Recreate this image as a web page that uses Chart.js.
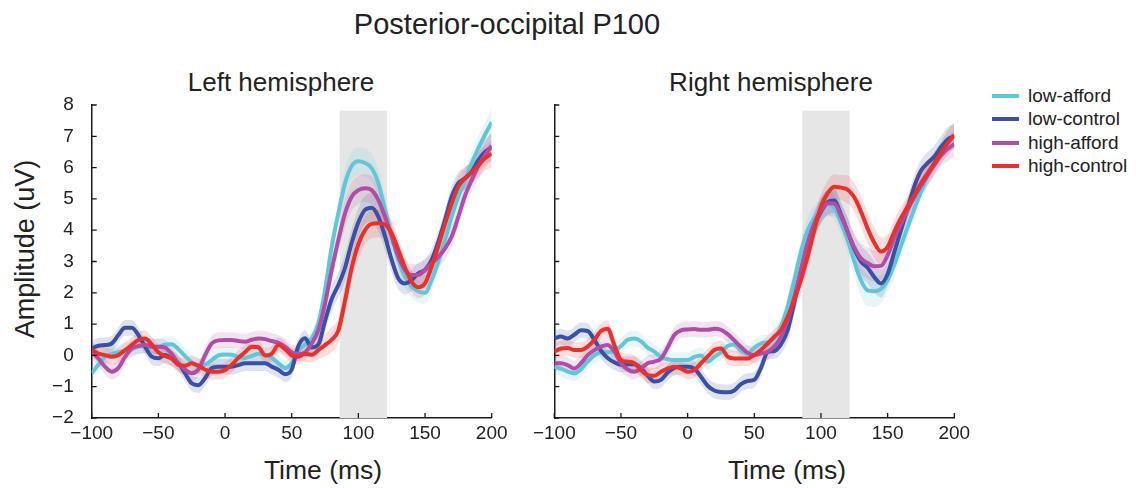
<!DOCTYPE html>
<html>
<head>
<meta charset="utf-8">
<script src="https://cdn.jsdelivr.net/npm/chart.js@4.4.1/dist/chart.umd.min.js"></script>
<style>
  body { margin: 0; width: 1136px; height: 488px; position: relative; overflow: hidden; background: #fff;
         font-family: "Liberation Sans", Arial, sans-serif; color: #222; }
  canvas { position: absolute; }
  .txt { position: absolute; white-space: nowrap; transform: translate(-50%, -50%); }
  #legend { position: absolute; left: 992px; top: 84px; font-size: 19px; }
  #legend div { height: 23.3px; line-height: 23.3px; position: relative; padding-left: 36px; }
  #legend span { position: absolute; left: 0; top: 10px; width: 27px; height: 4px; }
</style>
</head>
<body>
<div class="txt" style="left:507px;top:24px;font-size:29px">Posterior-occipital P100</div>
<div class="txt" style="left:281px;top:82px;font-size:26px">Left hemisphere</div>
<div class="txt" style="left:771px;top:82px;font-size:26px">Right hemisphere</div>
<div class="txt" style="left:25px;top:249px;font-size:27px;transform:translate(-50%,-50%) rotate(-90deg)">Amplitude (uV)</div>
<div class="txt" style="left:323px;top:470px;font-size:26.5px">Time (ms)</div>
<div class="txt" style="left:787px;top:470px;font-size:26.5px">Time (ms)</div>
<div id="legend"></div>

<canvas id="left" width="510" height="364" style="left:0px;top:91px"></canvas>
<canvas id="right" width="452" height="364" style="left:520px;top:91px"></canvas>

<script>

	/* Data */
	var times = [-100, -95, -90, -85, -80, -75, -70, -65, -60, -55,
		-50, -45, -40, -35, -30, -25, -20, -15, -10, -5,
		0, 5, 10, 15, 20, 25, 30, 35, 40, 45,
		50, 55, 60, 65, 70, 75, 80, 85, 90, 95,
		100, 105, 110, 115, 120, 125, 130, 135, 140, 145,
		150, 155, 160, 165, 170, 175, 180, 185, 190, 195,
		200];

	var conditions = ['low-afford', 'low-control', 'high-afford', 'high-control'];
	var colors = ['#62c6d9', '#3b4fa3', '#b04ea6', '#e8302d'];

	var xTicks = [-100, -50, 0, 50, 100, 150, 200];
	var yTicks = [-2, -1, 0, 1, 2, 3, 4, 5, 6, 7, 8];

	// P100 window (ms) and the top of the grey box (uV)
	var shadeStart = 86;
	var shadeEnd = 121.5;
	var shadeTop = 7.82;

	// left hemisphere means (uV)
	var lowAffordLeft = [-0.57, -0.3, -0.05, 0.05, 0.1, 0.15, 0.2, 0.28, 0.3, 0.28,
		0.28, 0.35, 0.36, 0.2, -0.02, -0.22, -0.35, -0.3, -0.15, 0.0,
		0.03, 0.02, -0.05, -0.08, -0.02, 0.05, 0.02, -0.08, -0.25, -0.4,
		-0.25, 0.15, 0.35, 0.55, 1.03, 2.09, 3.47, 4.54, 5.5, 6.05,
		6.2, 6.15, 5.98, 5.5, 4.65, 3.8, 3.05, 2.52, 2.2, 2.04,
		2.0, 2.41, 3.0, 3.69, 4.43, 5.07, 5.6, 6.14, 6.62, 7.05,
		7.45];
	var lowControlLeft = [0.22, 0.31, 0.33, 0.38, 0.65, 0.88, 0.88, 0.65, 0.28, -0.04,
		-0.09, 0.01, -0.09, -0.25, -0.57, -0.89, -0.95, -0.73, -0.41, -0.36,
		-0.36, -0.36, -0.31, -0.25, -0.25, -0.25, -0.25, -0.36, -0.46, -0.6,
		-0.45, 0.3, 0.55, 0.25, 0.35, 1.1, 1.8, 2.25, 2.8, 3.6,
		4.25, 4.65, 4.72, 4.43, 3.8, 3.05, 2.46, 2.3, 2.41, 2.62,
		2.73, 3.05, 3.63, 4.33, 5.07, 5.5, 5.66, 5.87, 6.24, 6.5,
		6.65];
	var highAffordLeft = [0.12, -0.1, -0.36, -0.52, -0.4, -0.05, 0.22, 0.3, 0.33, 0.28,
		0.28, 0.25, 0.05, -0.25, -0.45, -0.57, -0.45, 0.0, 0.38, 0.48,
		0.49, 0.49, 0.46, 0.44, 0.5, 0.54, 0.52, 0.46, 0.4, 0.28,
		0.1, 0.05, 0.1, 0.38, 0.81, 1.66, 2.73, 3.69, 4.54, 5.07,
		5.28, 5.34, 5.28, 4.96, 4.43, 3.8, 3.15, 2.73, 2.57, 2.57,
		2.73, 2.94, 3.15, 3.42, 3.8, 4.43, 5.1, 5.6, 6.05, 6.4,
		6.7];
	var highControlLeft = [0.17, 0.06, 0.01, -0.04, 0.01, 0.17, 0.33, 0.49, 0.54, 0.35,
		0.1, -0.02, -0.1, -0.3, -0.33, -0.25, -0.33, -0.45, -0.52, -0.52,
		-0.47, -0.3, -0.08, 0.1, 0.28, 0.26, 0.0, 0.05, 0.33, 0.2,
		0.0, -0.04, 0.05, 0.02, 0.17, 0.33, 0.5, 0.8, 1.75, 2.8,
		3.55, 4.0, 4.2, 4.22, 4.18, 3.9, 3.37, 2.8, 2.35, 2.18,
		2.3, 2.84, 3.5, 4.2, 4.85, 5.4, 5.66, 5.85, 6.08, 6.3,
		6.45];
	var semLeft = [0.25, 0.25, 0.25, 0.25, 0.25, 0.25, 0.25, 0.25, 0.25, 0.25,
		0.25, 0.25, 0.25, 0.25, 0.25, 0.25, 0.25, 0.25, 0.25, 0.25,
		0.25, 0.25, 0.25, 0.25, 0.25, 0.25, 0.25, 0.25, 0.25, 0.25,
		0.25, 0.25, 0.25, 0.25, 0.3, 0.35, 0.4, 0.4, 0.45, 0.45,
		0.45, 0.45, 0.45, 0.45, 0.45, 0.4, 0.35, 0.35, 0.35, 0.35,
		0.35, 0.35, 0.35, 0.35, 0.35, 0.35, 0.35, 0.35, 0.4, 0.4,
		0.45];

	// right hemisphere means (uV)
	var lowAffordRight = [-0.36, -0.42, -0.52, -0.57, -0.45, -0.2, 0.0, 0.1, 0.1, 0.15,
		0.3, 0.5, 0.54, 0.45, 0.25, 0.12, -0.05, -0.12, -0.15, -0.15,
		-0.15, -0.05, 0.0, -0.2, -0.05, 0.1, 0.3, 0.35, 0.15, 0.05,
		0.25, 0.38, 0.42, 0.54, 0.92, 1.55, 2.41, 3.31, 4.0, 4.38,
		4.64, 4.86, 4.72, 4.25, 3.7, 3.0, 2.4, 2.08, 2.05, 2.12,
		2.4, 2.9, 3.5, 4.1, 4.68, 5.22, 5.75, 6.15, 6.5, 6.8,
		7.04];
	var lowControlRight = [0.54, 0.6, 0.54, 0.66, 0.8, 0.78, 0.5, 0.15, -0.08, -0.22,
		-0.3, -0.28, -0.28, -0.4, -0.65, -0.83, -0.78, -0.55, -0.4, -0.36,
		-0.36, -0.42, -0.68, -0.97, -1.12, -1.17, -1.18, -1.12, -0.92, -0.82,
		-0.78, -0.4, 0.1, 0.14, 0.35, 0.8, 1.7, 2.7, 3.55, 4.15,
		4.6, 4.9, 4.95, 4.5, 3.95, 3.4, 3.0, 2.8, 2.5, 2.3,
		2.6, 3.3, 4.0, 4.7, 5.4, 5.9, 6.15, 6.35, 6.65, 6.9,
		7.0];
	var highAffordRight = [-0.25, -0.25, -0.31, -0.42, -0.25, 0.01, 0.17, 0.28, 0.33, 0.12,
		-0.25, -0.45, -0.52, -0.42, -0.25, -0.2, -0.1, 0.25, 0.65, 0.8,
		0.83, 0.84, 0.82, 0.82, 0.85, 0.82, 0.68, 0.48, 0.27, 0.08,
		0.01, 0.06, 0.12, 0.28, 0.6, 1.13, 1.87, 2.73, 3.58, 4.22,
		4.64, 4.86, 4.85, 4.45, 3.95, 3.45, 3.1, 2.95, 2.85, 2.86,
		3.2, 3.75, 4.2, 4.65, 5.05, 5.42, 5.75, 6.08, 6.38, 6.6,
		6.75];
	var highControlRight = [0.12, 0.22, 0.24, 0.17, 0.17, 0.28, 0.49, 0.78, 0.85, 0.33,
		-0.15, -0.2, -0.25, -0.47, -0.63, -0.65, -0.52, -0.42, -0.36, -0.42,
		-0.52, -0.47, -0.25, -0.04, 0.17, 0.22, -0.04, -0.1, -0.1, -0.1,
		0.01, 0.17, 0.38, 0.6, 0.81, 1.23, 1.77, 2.41, 3.15, 4.0,
		4.75, 5.18, 5.39, 5.36, 5.3, 5.05, 4.6, 4.05, 3.6, 3.32,
		3.47, 3.95, 4.38, 4.75, 5.12, 5.5, 5.82, 6.14, 6.46, 6.78,
		7.04];
	var semRight = [0.25, 0.25, 0.25, 0.25, 0.25, 0.25, 0.25, 0.25, 0.25, 0.25,
		0.25, 0.25, 0.25, 0.25, 0.25, 0.25, 0.25, 0.25, 0.25, 0.25,
		0.25, 0.25, 0.25, 0.25, 0.25, 0.25, 0.25, 0.25, 0.25, 0.25,
		0.25, 0.25, 0.25, 0.25, 0.3, 0.35, 0.4, 0.4, 0.4, 0.4,
		0.4, 0.4, 0.4, 0.4, 0.45, 0.45, 0.5, 0.5, 0.5, 0.45,
		0.4, 0.4, 0.35, 0.35, 0.35, 0.35, 0.35, 0.35, 0.35, 0.4,
		0.4];


	/* ********************************

	    Helpers

	******************************** */

	Chart.defaults.font.family = '"Liberation Sans", Arial, sans-serif';
	Chart.defaults.color = '#222';

	function minus(v) {
		return v < 0 ? '\u2212' + Math.abs(v) : String(v);
	}

	function hexAlpha(hex, a) {
		var n = parseInt(hex.slice(1), 16);
		return 'rgba(' + (n >> 16) + ',' + ((n >> 8) & 255) + ',' + (n & 255) + ',' + a + ')';
	}

	function points(values, sem, sign) {
		return times.map(function(t, i) {
			return { x: t, y: values[i] + sign * sem[i] };
		});
	}

	// grey window behind the curves and inward tick marks like the original
	var panelPlugin = {
		id: 'panel',
		beforeDatasetsDraw: function(chart) {
			var x = chart.scales.x, y = chart.scales.y, ctx = chart.ctx;
			var x0 = x.getPixelForValue(shadeStart), x1 = x.getPixelForValue(shadeEnd);
			var y0 = y.getPixelForValue(shadeTop), y1 = y.getPixelForValue(y.min);
			ctx.save();
			ctx.fillStyle = '#e6e6e6';
			ctx.fillRect(x0, y0, x1 - x0, y1 - y0);
			ctx.restore();
		},
		afterDraw: function(chart) {
			var x = chart.scales.x, y = chart.scales.y, ctx = chart.ctx;
			var area = chart.chartArea;
			ctx.save();
			ctx.strokeStyle = '#1a1a1a';
			ctx.lineWidth = 1.3;
			ctx.beginPath();
			xTicks.forEach(function(v) {
				var px = x.getPixelForValue(v);
				ctx.moveTo(px, area.bottom);
				ctx.lineTo(px, area.bottom - 5);
			});
			yTicks.forEach(function(v) {
				var py = y.getPixelForValue(v);
				ctx.moveTo(area.left, py);
				ctx.lineTo(area.left + 5, py);
			});
			ctx.stroke();
			ctx.restore();
		}
	};


	/* ********************************

	    Chart - one hemisphere

	******************************** */

	function buildPanel(canvasId, series, sem, yWidth, showYLabels, rightPad) {

		var datasets = [];
		// red drawn on top, then purple, blue, cyan
		var lineOrder = [3, 2, 1, 0];

		series.forEach(function(values, i) {
			datasets.push({
				data: points(values, sem, 1),
				borderWidth: 0,
				pointRadius: 0,
				backgroundColor: hexAlpha(colors[i], 0.16),
				fill: '+1',
				cubicInterpolationMode: 'monotone',
				order: 20 + lineOrder[i]
			});
			datasets.push({
				data: points(values, sem, -1),
				borderWidth: 0,
				pointRadius: 0,
				fill: false,
				cubicInterpolationMode: 'monotone',
				order: 20 + lineOrder[i]
			});
		});

		series.forEach(function(values, i) {
			datasets.push({
				label: conditions[i],
				data: points(values, sem, 0),
				borderColor: colors[i],
				borderWidth: 4,
				pointRadius: 0,
				fill: false,
				cubicInterpolationMode: 'monotone',
				order: lineOrder[i]
			});
		});

		return new Chart(document.getElementById(canvasId), {
			type: 'line',
			data: { datasets: datasets },
			plugins: [panelPlugin],
			options: {
				responsive: false,
				animation: false,
				events: [],
				layout: { padding: { top: 14, right: rightPad, left: 0, bottom: 0 } },
				plugins: {
					legend: { display: false },
					tooltip: { enabled: false }
				},
				scales: {
					x: {
						type: 'linear',
						min: -100,
						max: 200,
						afterBuildTicks: function(scale) {
							scale.ticks = xTicks.map(function(v) { return { value: v }; });
						},
						ticks: { font: { size: 19 }, padding: 4, maxRotation: 0, callback: minus },
						grid: { display: false, drawTicks: false },
						border: { display: true, color: '#1a1a1a', width: 1.5 },
						afterFit: function(scale) {
							scale.height = 37;
							scale.paddingLeft = 0;
							scale.paddingRight = 0;
						}
					},
					y: {
						type: 'linear',
						min: -2,
						max: 8,
						afterBuildTicks: function(scale) {
							scale.ticks = yTicks.map(function(v) { return { value: v }; });
						},
						ticks: { display: showYLabels, font: { size: 19 }, padding: 18, callback: minus },
						grid: { display: false, drawTicks: false },
						border: { display: true, color: '#1a1a1a', width: 1.5 },
						afterFit: function(scale) {
							scale.width = yWidth;
							scale.paddingTop = 0;
							scale.paddingBottom = 0;
						}
					}
				}
			}
		});
	}

	buildPanel('left', [lowAffordLeft, lowControlLeft, highAffordLeft, highControlLeft], semLeft, 91.7, true, 18.3);
	buildPanel('right', [lowAffordRight, lowControlRight, highAffordRight, highControlRight], semRight, 34.3, false, 17.7);


	/* Legend */
	var legend = document.getElementById('legend');
	conditions.forEach(function(name, i) {
		var row = document.createElement('div');
		var swatch = document.createElement('span');
		swatch.style.background = colors[i];
		row.appendChild(swatch);
		row.appendChild(document.createTextNode(name));
		legend.appendChild(row);
	});

</script>
</body>
</html>
